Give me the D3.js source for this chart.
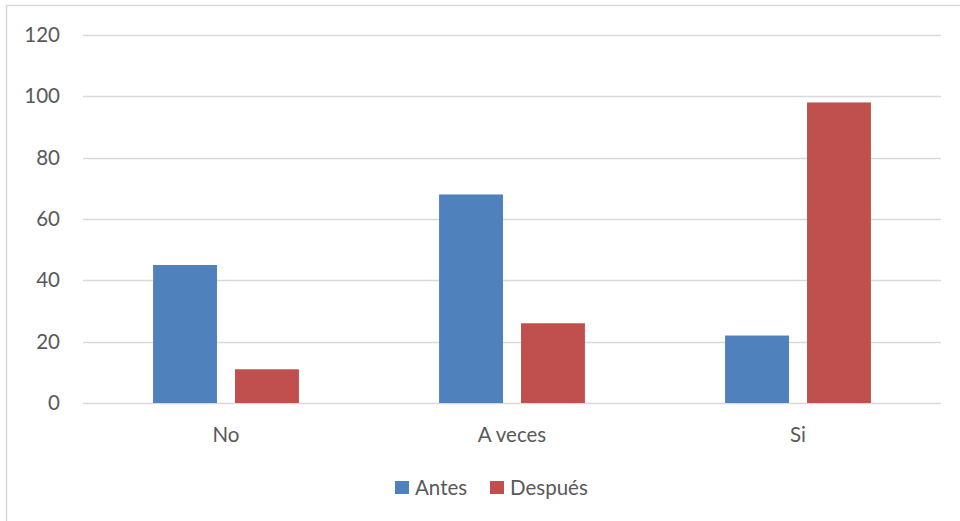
<!DOCTYPE html>
<html>
<head>
<meta charset="utf-8">
<script src="https://cdn.jsdelivr.net/npm/d3@7"></script>
<style>
  html, body { margin: 0; padding: 0; background: #fff; }
  svg { display: block; }
  text { font-family: Lato, "Open Sans", sans-serif; fill: #595959; }
</style>
</head>
<body>
<svg id="chart" width="960" height="521"></svg>
<script>
const categories = ["No", "A veces", "Si"];
const seriesNames = ["Antes", "Después"];
const antes = [45, 68, 22];
const despues = [11, 26, 98];
const yTicks = [0, 20, 40, 60, 80, 100, 120];
const colors = ["#4f81bd", "#c0504d"];

const svg = d3.select("#chart");
const W = 960, H = 521;
const plot = { left: 83, right: 941, top: 35, bottom: 403 };
const fontSize = 20.5;

// outer chart frame
svg.append("rect")
  .attr("x", 6.5).attr("y", 5.5)
  .attr("width", W + 10).attr("height", H + 10)
  .attr("fill", "#fff").attr("stroke", "#d9d9d9").attr("stroke-width", 1.5);

const x0 = d3.scaleBand().domain(categories).range([plot.left, plot.right]);
const bw = x0.bandwidth();
const x1 = d3.scaleBand().domain(seriesNames)
  .range([bw * 0.245, bw * 0.755]).paddingInner(0.22);
const y = d3.scaleLinear().domain([0, 120]).range([plot.bottom, plot.top]);

// horizontal gridlines
svg.append("g").selectAll("line").data(yTicks).join("line")
  .attr("x1", plot.left).attr("x2", plot.right)
  .attr("y1", d => Math.round(y(d)) + 0.5).attr("y2", d => Math.round(y(d)) + 0.5)
  .attr("stroke", "#d9d9d9").attr("stroke-width", 1.3);

// y-axis labels
const yAxis = d3.axisLeft(y).tickValues(yTicks).tickSize(0).tickPadding(0);
const gy = svg.append("g").attr("transform", `translate(60,0)`).call(yAxis);
gy.select(".domain").remove();
gy.selectAll("text").attr("font-size", fontSize).attr("font-family", "Lato, sans-serif").attr("fill", "#595959");

// bars
const rows = categories.map((c, i) => ({ cat: c, vals: [antes[i], despues[i]] }));
const groups = svg.append("g").selectAll("g").data(rows).join("g")
  .attr("transform", d => `translate(${x0(d.cat)},0)`);
groups.selectAll("rect").data(d => d.vals.map((v, j) => ({ name: seriesNames[j], v, j })))
  .join("rect")
  .attr("x", d => x1(d.name))
  .attr("width", x1.bandwidth())
  .attr("y", d => y(d.v))
  .attr("height", d => y(0) - y(d.v))
  .attr("fill", d => colors[d.j]);

// x-axis labels
const xAxis = d3.axisBottom(x0).tickSize(0).tickPadding(0);
const gx = svg.append("g").attr("transform", `translate(0,${plot.bottom + 24})`).call(xAxis);
gx.select(".domain").remove();
gx.selectAll("text").attr("font-size", fontSize).attr("font-family", "Lato, sans-serif").attr("fill", "#595959");

// legend
const legend = svg.append("g");
const legendX = [395, 490];
seriesNames.forEach((name, j) => {
  const g = legend.append("g").attr("transform", `translate(${legendX[j]},481)`);
  g.append("rect").attr("width", 14).attr("height", 13).attr("fill", colors[j]);
  g.append("text").attr("x", 20).attr("y", 14).attr("font-size", fontSize).text(name);
});
</script>
</body>
</html>
